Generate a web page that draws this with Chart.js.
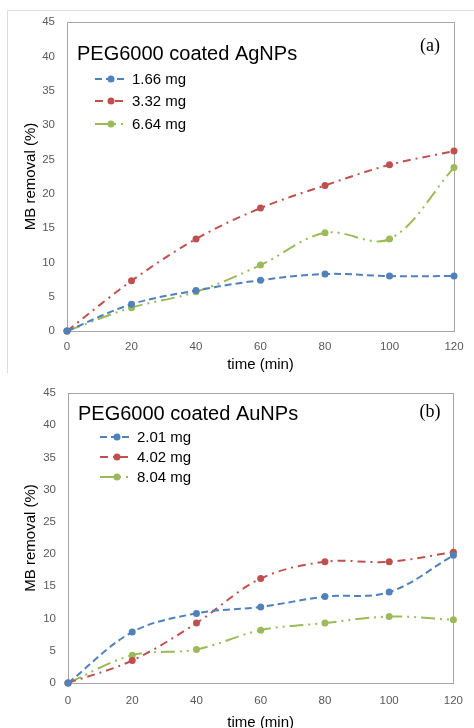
<!DOCTYPE html>
<html>
<head>
<meta charset="utf-8">
<script src="https://cdn.jsdelivr.net/npm/chart.js@4"></script>
<style>
  html, body { margin: 0; padding: 0; background: #fff; }
  #wrap { position: relative; width: 474px; height: 728px; overflow: hidden; }
  .box { position: absolute; left: 0; width: 474px; }
  #boxA { top: 0; height: 374px; }
  #boxB { top: 374px; height: 354px; }
</style>
</head>
<body>
<div id="wrap">
  <div class="box" id="boxA"><canvas id="chartA"></canvas></div>
  <div class="box" id="boxB"><canvas id="chartB"></canvas></div>
</div>
<script>
// shared axis data
const timeMin = [0, 20, 40, 60, 80, 100, 120];
const yMin = 0, yMax = 45, yStep = 5;

// (a) PEG6000 coated AgNPs
const agLabels = ['1.66 mg', '3.32 mg', '6.64 mg'];
const ag166 = [0, 3.9, 5.9, 7.4, 8.3, 8.0, 8.0];
const ag332 = [0, 7.3, 13.4, 17.9, 21.2, 24.2, 26.2];
const ag664 = [0, 3.4, 5.7, 9.6, 14.3, 13.4, 23.8];

// (b) PEG6000 coated AuNPs
const auLabels = ['2.01 mg', '4.02 mg', '8.04 mg'];
const au201 = [0, 7.9, 10.8, 11.8, 13.4, 14.1, 19.8];
const au402 = [0, 3.5, 9.3, 16.2, 18.8, 18.8, 20.3];
const au804 = [0, 4.3, 5.2, 8.2, 9.3, 10.3, 9.8];

const colours = { blue: '#4f81bd', red: '#c0504d', green: '#9bbb59' };
const dashes = [[7, 4], [8, 5, 2, 5], [14, 5, 2, 5, 2, 5]];
const tickColour = '#595959';
const SANS = "'Liberation Sans', Arial, sans-serif";

function series(label, values, colour, dash) {
  return {
    label: label,
    data: values.map((v, i) => ({ x: timeMin[i], y: v })),
    borderColor: colour,
    backgroundColor: colour,
    borderWidth: 2,
    borderDash: dash,
    pointRadius: 3.5,
    pointBorderWidth: 0,
    pointBackgroundColor: colour,
    tension: 0.35,
    clip: false
  };
}

// frame, heading, panel tag and legend
const decor = {
  id: 'decor',
  beforeDatasetsDraw(chart, args, o) {
    const ctx = chart.ctx;
    const a = chart.chartArea;
    ctx.save();
    if (o.outer) {
      ctx.strokeStyle = '#dcdcdc';
      ctx.lineWidth = 1;
      ctx.beginPath();
      ctx.moveTo(7.5, o.outer.bottom);
      ctx.lineTo(7.5, 10.5);
      ctx.lineTo(chart.width, 10.5);
      ctx.stroke();
    }
    ctx.strokeStyle = '#a6a6a6';
    ctx.lineWidth = 1;
    ctx.strokeRect(Math.round(a.left) + 0.5, Math.round(a.top) + 0.5,
      Math.round(a.right - a.left), Math.round(a.bottom - a.top));
    ctx.restore();
  },
  afterDraw(chart, args, o) {
    const ctx = chart.ctx;
    ctx.save();
    ctx.fillStyle = '#000';
    ctx.font = '20px ' + SANS;
    ctx.textBaseline = 'alphabetic';
    ctx.textAlign = 'left';
    ctx.fillText(o.heading, o.headingX, o.headingY);

    ctx.font = "18px 'Liberation Serif', 'Times New Roman', serif";
    ctx.textAlign = 'center';
    ctx.textBaseline = 'middle';
    ctx.fillText(o.tag, o.tagX, o.tagY);

    ctx.font = '15px ' + SANS;
    ctx.textAlign = 'left';
    chart.data.datasets.forEach((ds, i) => {
      const y = o.legendY[i];
      ctx.strokeStyle = ds.borderColor;
      ctx.lineWidth = 2;
      ctx.setLineDash(ds.borderDash);
      ctx.beginPath();
      ctx.moveTo(o.lineX0, y);
      ctx.lineTo(o.lineX1, y);
      ctx.stroke();
      ctx.setLineDash([]);
      ctx.fillStyle = ds.borderColor;
      ctx.beginPath();
      ctx.arc(o.dotX, y, 3.5, 0, Math.PI * 2);
      ctx.fill();
      ctx.fillStyle = '#000';
      ctx.fillText(ds.label, o.textX, y + 1);
    });
    ctx.restore();
  }
};

function makeChart(id, datasets, p) {
  return new Chart(document.getElementById(id), {
    type: 'line',
    data: { datasets: datasets },
    plugins: [decor],
    options: {
      responsive: true,
      maintainAspectRatio: false,
      animation: false,
      layout: { padding: { top: p.padTop, right: 20, left: 0, bottom: 0 } },
      plugins: {
        legend: { display: false },
        tooltip: { enabled: false },
        decor: p.decor
      },
      scales: {
        x: {
          type: 'linear',
          min: timeMin[0],
          max: timeMin[timeMin.length - 1],
          afterFit: s => { s.height = p.xHeight; },
          grid: { display: false, drawTicks: false },
          border: { display: false },
          ticks: {
            stepSize: 20,
            color: tickColour,
            font: { family: SANS, size: 11.5 },
            padding: p.xTickPad,
            maxRotation: 0
          },
          title: {
            display: true,
            text: 'time (min)',
            color: '#000',
            font: { family: SANS, size: 15 },
            padding: { top: 0, bottom: p.xTitlePad }
          }
        },
        y: {
          min: yMin,
          max: yMax,
          afterFit: s => { s.width = p.yWidth; },
          grid: { display: false, drawTicks: false },
          border: { display: false },
          ticks: {
            stepSize: yStep,
            color: tickColour,
            font: { family: SANS, size: 11.5 },
            padding: 12
          },
          title: {
            display: true,
            text: 'MB removal (%)',
            color: '#000',
            font: { family: SANS, size: 15 },
            padding: { top: 22, bottom: 0 }
          }
        }
      }
    }
  });
}

makeChart('chartA', [
  series(agLabels[0], ag166, colours.blue, dashes[0]),
  series(agLabels[1], ag332, colours.red, dashes[1]),
  series(agLabels[2], ag664, colours.green, dashes[2])
], {
  padTop: 22, xHeight: 43, yWidth: 67, xTickPad: 9, xTitlePad: 0,
  decor: {
    heading: 'PEG6000 coated AgNPs', headingX: 77, headingY: 60,
    tag: '(a)', tagX: 430, tagY: 46,
    legendY: [79, 101, 124], lineX0: 95, lineX1: 127, dotX: 111, textX: 132,
    outer: { bottom: 373 }
  }
});

makeChart('chartB', [
  series(auLabels[0], au201, colours.blue, dashes[0]),
  series(auLabels[1], au402, colours.red, dashes[1]),
  series(auLabels[2], au804, colours.green, dashes[2])
], {
  padTop: 18, xHeight: 45, yWidth: 68, xTickPad: 11, xTitlePad: -4,
  decor: {
    heading: 'PEG6000 coated AuNPs', headingX: 78, headingY: 46,
    tag: '(b)', tagX: 430, tagY: 38,
    legendY: [63, 83, 103], lineX0: 100, lineX1: 133, dotX: 117, textX: 137
  }
});
</script>
</body>
</html>
